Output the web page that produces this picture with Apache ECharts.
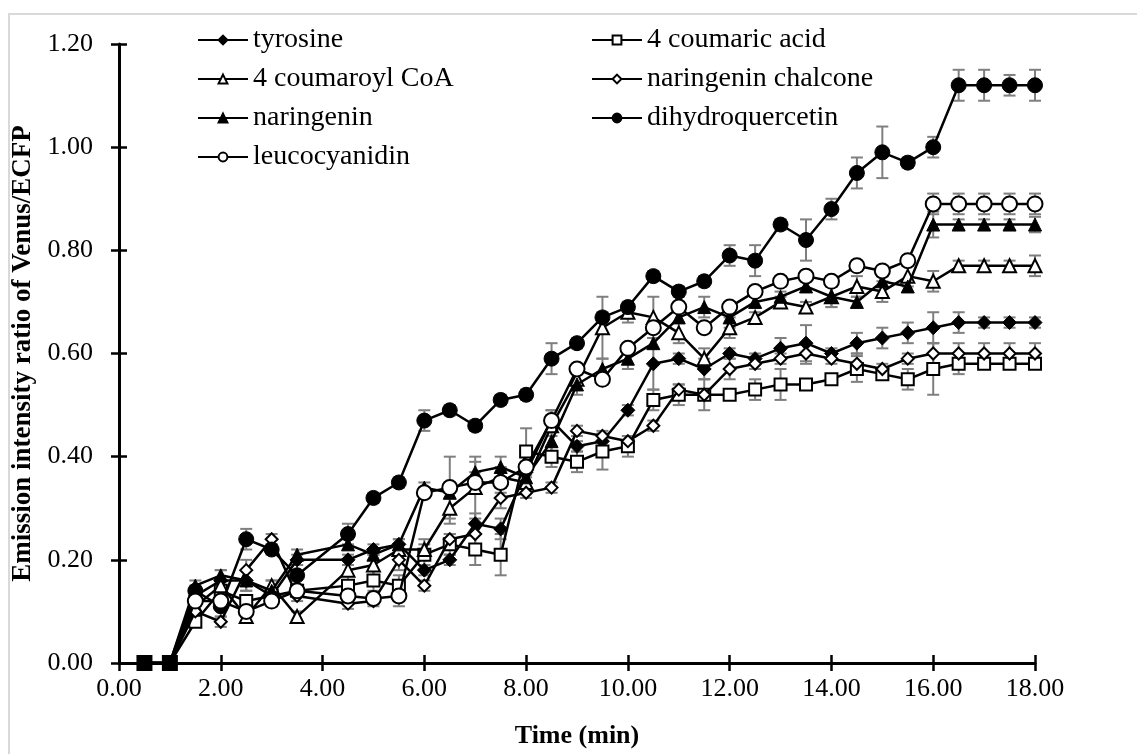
<!DOCTYPE html>
<html>
<head>
<meta charset="utf-8">
<script src="https://cdn.jsdelivr.net/npm/echarts@6/dist/echarts.min.js"></script>
<style>
  html, body { margin: 0; padding: 0; background: #fff; }
  #chart { width: 1137px; height: 754px; }
</style>
</head>
<body>
<div id="chart"></div>
<script>
// Sampling times (min); there is no reading at 4.0 min
const times = [0.5, 1, 1.5, 2, 2.5, 3, 3.5, 4.5, 5, 5.5, 6, 6.5, 7, 7.5, 8, 8.5, 9, 9.5, 10,
  10.5, 11, 11.5, 12, 12.5, 13, 13.5, 14, 14.5, 15, 15.5, 16, 16.5, 17, 17.5, 18];

// Venus/ECFP emission ratio, mean values
const tyrosine = [0, 0, 0.13, 0.16, 0.16, 0.13, 0.20, 0.20, 0.22, 0.23, 0.18, 0.20, 0.27, 0.26, 0.37, 0.47, 0.42, 0.43, 0.49,
  0.58, 0.59, 0.57, 0.60, 0.59, 0.61, 0.62, 0.60, 0.62, 0.63, 0.64, 0.65, 0.66, 0.66, 0.66, 0.66];
const coumaricAcid = [0, 0, 0.08, 0.14, 0.12, 0.13, 0.14, 0.15, 0.16, 0.15, 0.21, 0.23, 0.22, 0.21, 0.41, 0.40, 0.39, 0.41, 0.42,
  0.51, 0.52, 0.52, 0.52, 0.53, 0.54, 0.54, 0.55, 0.57, 0.56, 0.55, 0.57, 0.58, 0.58, 0.58, 0.58];
const coumaroylCoA = [0, 0, 0.11, 0.15, 0.09, 0.15, 0.09, 0.18, 0.19, 0.22, 0.22, 0.30, 0.34, 0.36, 0.35, 0.46, 0.55, 0.65, 0.68,
  0.67, 0.64, 0.59, 0.65, 0.67, 0.70, 0.69, 0.71, 0.73, 0.72, 0.75, 0.74, 0.77, 0.77, 0.77, 0.77];
const naringeninChalcone = [0, 0, 0.10, 0.08, 0.18, 0.24, 0.13, 0.115, 0.12, 0.20, 0.15, 0.24, 0.25, 0.32, 0.33, 0.34, 0.45, 0.44, 0.43,
  0.46, 0.53, 0.52, 0.57, 0.58, 0.59, 0.60, 0.59, 0.58, 0.57, 0.59, 0.60, 0.60, 0.60, 0.60, 0.60];
const naringenin = [0, 0, 0.15, 0.17, 0.16, 0.14, 0.21, 0.23, 0.21, 0.23, 0.34, 0.33, 0.37, 0.38, 0.36, 0.43, 0.54, 0.57, 0.59,
  0.62, 0.67, 0.69, 0.67, 0.70, 0.71, 0.73, 0.71, 0.70, 0.74, 0.73, 0.85, 0.85, 0.85, 0.85, 0.85];
const dihydroquercetin = [0, 0, 0.14, 0.11, 0.24, 0.22, 0.17, 0.25, 0.32, 0.35, 0.47, 0.49, 0.46, 0.51, 0.52, 0.59, 0.62, 0.67, 0.69,
  0.75, 0.72, 0.74, 0.79, 0.78, 0.85, 0.82, 0.88, 0.95, 0.99, 0.97, 1.00, 1.12, 1.12, 1.12, 1.12];
const leucocyanidin = [0, 0, 0.12, 0.12, 0.10, 0.12, 0.14, 0.13, 0.125, 0.13, 0.33, 0.34, 0.35, 0.35, 0.38, 0.47, 0.57, 0.55, 0.61,
  0.65, 0.69, 0.65, 0.69, 0.72, 0.74, 0.75, 0.74, 0.77, 0.76, 0.78, 0.89, 0.89, 0.89, 0.89, 0.89];

// Standard deviations
const tyrosineSd = [0, 0, 0.01, 0.02, 0.02, 0.01, 0.01, 0.01, 0.01, 0.01, 0.01, 0.01, 0.02, 0.02, 0.02, 0.02, 0.01, 0.01, 0.01,
  0.05, 0.01, 0.02, 0.01, 0.01, 0.02, 0.035, 0.01, 0.02, 0.02, 0.02, 0.03, 0.02, 0.01, 0.01, 0.01];
const coumaricAcidSd = [0, 0, 0.01, 0.01, 0.01, 0.01, 0.01, 0.02, 0.02, 0.02, 0.02, 0.02, 0.03, 0.04, 0.045, 0.02, 0.02, 0.035, 0.02,
  0.02, 0.02, 0.03, 0.01, 0.02, 0.03, 0.01, 0.01, 0.025, 0.01, 0.02, 0.05, 0.02, 0.01, 0.01, 0.01];
const coumaroylCoASd = [0, 0, 0.01, 0.01, 0.01, 0.01, 0.01, 0.02, 0.02, 0.01, 0.02, 0.03, 0.06, 0.02, 0.02, 0.02, 0.02, 0.06, 0.02,
  0.04, 0.02, 0.02, 0.02, 0.01, 0.01, 0.01, 0.02, 0.02, 0.02, 0.02, 0.02, 0.01, 0.01, 0.01, 0.02];
const naringeninChalconeSd = [0, 0, 0.01, 0.01, 0.02, 0.01, 0.01, 0.01, 0.01, 0.02, 0.01, 0.01, 0.02, 0.02, 0.01, 0.01, 0.01, 0.01, 0.01,
  0.01, 0.01, 0.01, 0.02, 0.01, 0.01, 0.02, 0.01, 0.02, 0.01, 0.01, 0.02, 0.02, 0.02, 0.02, 0.02];
const naringeninSd = [0, 0, 0.01, 0.01, 0.02, 0.02, 0.01, 0.01, 0.01, 0.01, 0.01, 0.01, 0.02, 0.02, 0.02, 0.02, 0.02, 0.02, 0.02,
  0.01, 0.01, 0.02, 0.02, 0.01, 0.01, 0.01, 0.02, 0.01, 0.01, 0.01, 0.025, 0.01, 0.01, 0.01, 0.015];
const dihydroquercetinSd = [0, 0, 0.01, 0.02, 0.02, 0.01, 0.02, 0.02, 0.01, 0.01, 0.02, 0.01, 0.01, 0.01, 0.01, 0.03, 0.01, 0.01, 0.01,
  0.01, 0.01, 0.01, 0.02, 0.03, 0.01, 0.04, 0.02, 0.03, 0.05, 0.01, 0.02, 0.03, 0.03, 0.02, 0.03];
const leucocyanidinSd = [0, 0, 0.01, 0.01, 0.01, 0.01, 0.01, 0.01, 0.01, 0.02, 0.01, 0.06, 0.02, 0.02, 0.02, 0.02, 0.01, 0.01, 0.01,
  0.01, 0.01, 0.01, 0.01, 0.01, 0.01, 0.01, 0.01, 0.01, 0.01, 0.01, 0.02, 0.02, 0.02, 0.02, 0.02];

const FONT = "'Liberation Serif', 'Times New Roman', serif";

// name, values, sd, marker shape, marker size, filled?
const seriesDefs = [
  ['tyrosine', tyrosine, tyrosineSd, 'diamond', 14, true],
  ['4 coumaric acid', coumaricAcid, coumaricAcidSd, 'rect', 12, false],
  ['4 coumaroyl CoA', coumaroylCoA, coumaroylCoASd, 'triangle', 13, false],
  ['naringenin chalcone', naringeninChalcone, naringeninChalconeSd, 'diamond', 12, false],
  ['naringenin', naringenin, naringeninSd, 'triangle', 13, true],
  ['dihydroquercetin', dihydroquercetin, dihydroquercetinSd, 'circle', 15, true],
  ['leucocyanidin', leucocyanidin, leucocyanidinSd, 'circle', 15, false]
];

function renderErrorBar(params, api) {
  const x = api.value(0);
  const top = api.coord([x, api.value(2)]);
  const bot = api.coord([x, api.value(1)]);
  const w = 6;
  const style = { stroke: '#7f7f7f', lineWidth: 2 };
  return {
    type: 'group',
    children: [
      { type: 'line', shape: { x1: top[0], y1: top[1], x2: bot[0], y2: bot[1] }, style },
      { type: 'line', shape: { x1: top[0] - w, y1: top[1], x2: top[0] + w, y2: top[1] }, style },
      { type: 'line', shape: { x1: bot[0] - w, y1: bot[1], x2: bot[0] + w, y2: bot[1] }, style }
    ]
  };
}

const series = [];
seriesDefs.forEach(([name, vals, sd]) => {
  const bars = [];
  vals.forEach((v, i) => { if (sd[i] > 0) bars.push([times[i], v - sd[i], v + sd[i]]); });
  series.push({
    type: 'custom',
    renderItem: renderErrorBar,
    data: bars,
    encode: { x: 0, y: [1, 2] },
    z: 1,
    silent: true
  });
});
seriesDefs.forEach(([name, vals, sd, shape, size, filled], idx) => {
  const isSquare = shape === 'rect';
  series.push({
    name,
    type: 'line',
    symbol: shape,
    symbolSize: size,
    z: 3 + idx,
    lineStyle: { color: '#000', width: 2.5 },
    itemStyle: filled
      ? { color: '#000', borderColor: '#000', borderWidth: 1 }
      : { color: '#fff', borderColor: '#000', borderWidth: 2 },
    data: vals.map((v, i) => {
      if (v !== 0) return [times[i], v];
      // the zero readings before induction show as solid squares
      return isSquare
        ? { value: [times[i], v], symbolSize: 14, itemStyle: { color: '#000', borderColor: '#000' } }
        : { value: [times[i], v], symbolSize: 0 };
    }),
    animation: false
  });
});

const axisLabelStyle = { color: '#000', fontFamily: FONT, fontSize: 26 };
const tickStyle = { color: '#000', width: 2.5 };

const legendBase = {
  orient: 'vertical',
  top: 21,
  itemGap: 11,
  itemWidth: 50,
  itemHeight: 11,
  selectedMode: false,
  textStyle: { color: '#000', fontFamily: FONT, fontSize: 28 }
};

const chart = echarts.init(document.getElementById('chart'), null, { renderer: 'canvas' });
chart.setOption({
  backgroundColor: '#fff',
  animation: false,
  graphic: [{
    type: 'rect',
    shape: { x: 9, y: 14, width: 1200, height: 800 },
    style: { fill: 'none', stroke: '#d9d9d9', lineWidth: 2 },
    silent: true
  }],
  legend: [
    Object.assign({}, legendBase, { left: 192, data: ['tyrosine', '4 coumaroyl CoA', 'naringenin', 'leucocyanidin'] }),
    Object.assign({}, legendBase, { left: 586, data: ['4 coumaric acid', 'naringenin chalcone', 'dihydroquercetin'] })
  ],
  grid: { left: 119, right: 102, top: 44, bottom: 86, containLabel: false },
  xAxis: [{
    type: 'value', min: 0, max: 18, interval: 2,
    name: 'Time (min)', nameLocation: 'middle', nameGap: 60,
    nameTextStyle: { color: '#000', fontFamily: FONT, fontSize: 26, fontWeight: 'bold' },
    axisLine: { lineStyle: { color: '#000', width: 3 } },
    axisTick: { length: 8, lineStyle: tickStyle },
    axisLabel: Object.assign({ margin: 13, formatter: v => v.toFixed(2) }, axisLabelStyle),
    splitLine: { show: false }
  }, {
    type: 'value', min: 0, max: 18, interval: 2, position: 'bottom',
    axisLine: { show: false },
    axisTick: { inside: true, length: 8, lineStyle: tickStyle },
    axisLabel: { show: false },
    splitLine: { show: false }
  }],
  yAxis: [{
    type: 'value', min: 0, max: 1.2, interval: 0.2,
    name: 'Emission intensity ratio of Venus/ECFP', nameLocation: 'middle', nameGap: 58, nameRotate: 90,
    nameTextStyle: { color: '#000', fontFamily: FONT, fontSize: 27, fontWeight: 'bold' },
    axisLine: { show: true, lineStyle: { color: '#000', width: 3 } },
    axisTick: { show: true, length: 8, lineStyle: tickStyle },
    axisLabel: Object.assign({ margin: 26, formatter: v => v.toFixed(2) }, axisLabelStyle),
    splitLine: { show: false }
  }, {
    type: 'value', min: 0, max: 1.2, interval: 0.2, position: 'left',
    axisLine: { show: false },
    axisTick: { show: true, inside: true, length: 8, lineStyle: tickStyle },
    axisLabel: { show: false },
    splitLine: { show: false }
  }],
  series
});
</script>
</body>
</html>
